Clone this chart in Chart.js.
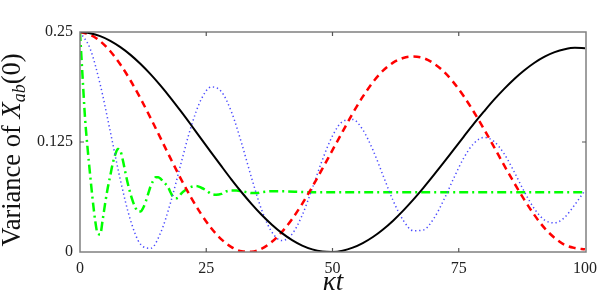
<!DOCTYPE html>
<html>
<head>
<meta charset="utf-8">
<script src="https://cdn.jsdelivr.net/npm/chart.js@4/dist/chart.umd.min.js"></script>
<style>
  html, body { margin: 0; padding: 0; background: #fff; }
  #wrap { position: relative; width: 598px; height: 295px; }
</style>
</head>
<body>
<div id="wrap"><canvas id="c"></canvas></div>
<script>
// ---- data ----
const xTicks = [0, 25, 50, 75, 100];
const yTicks = [0, 0.125, 0.25];
const yTickLabels = ["0", "0.125", "0.25"];

const tGrid = [0,2,4,6,8,10,12,14,16,18,20,22,24,26,28,30,32,34,36,38,40,42,44,46,48,50,
               52,54,56,58,60,62,64,66,68,70,72,74,76,78,80,82,84,86,88,90,92,94,96,98,100];

const blackV = [0.250,0.2486,0.2453,0.2400,0.2328,0.2240,0.2136,0.2018,0.1887,0.1746,0.1597,
                0.1443,0.1286,0.1130,0.0975,0.0823,0.0679,0.0544,0.0420,0.0310,0.0214,
                0.0135,0.0073,0.0030,0.0006,0.0001,0.0015,0.0049,0.0101,0.0170,0.0256,
                0.0356,0.0470,0.0595,0.0729,0.0870,0.1015,0.1164,0.1312,0.1458,0.1597,
                0.1731,0.1854,0.1967,0.2066,0.2151,0.2220,0.2271,0.2304,0.2320,0.2316];

const redV = [0.250,0.2470,0.2396,0.2281,0.2130,0.1949,0.1743,0.1520,0.1288,0.1055,0.0829,
              0.0618,0.0430,0.0270,0.0144,0.0056,0.0008,0.0003,0.0039,0.0116,0.0229,
              0.0375,0.0547,0.0740,0.0947,0.1158,0.1368,0.1575,0.1765,0.1930,0.2060,
              0.2152,0.2205,0.2221,0.2203,0.2145,0.2052,0.1925,0.1769,0.1591,0.1396,
              0.1192,0.0984,0.0783,0.0592,0.0419,0.0271,0.0160,0.0080,0.0045,0.0030];

const blueV = [0.250,0.2311,0.1904,0.1368,0.0817,0.0361,0.0087,0.0042,0.0224,0.0574,0.1007,
               0.1424,0.1735,0.1876,0.1822,0.1591,0.1236,0.0837,0.0475,0.0225,0.0130,
               0.0203,0.0418,0.0724,0.1047,0.1320,0.1483,0.1506,0.1389,0.1160,0.0872,
               0.0585,0.0361,0.0242,0.0250,0.0375,0.0587,0.0837,0.1069,0.1235,0.1301,
               0.1256,0.1115,0.0909,0.0684,0.0489,0.0363,0.0331,0.0395,0.0539,0.0700];

const greenT = [0,0.5,1,1.5,2,2.5,3,3.5,4,4.5,5,5.5,6,6.5,7,7.5,8,8.5,9,9.5,10,10.5,11,11.5,
                12,12.5,13,13.5,14,14.5,15,15.5,16,16.5,17,17.5,18,18.5,19,19.5,20,21,22,23,
                24,25,26,27,28,29,30,31,32,33,34,35,36,38,40,45,50,55,60,65,70,75,80,85,90,95,100];
const greenV = [0.250,0.200,0.152,0.118,0.088,0.060,0.036,0.021,0.020,0.037,0.056,0.073,0.087,
                0.101,0.111,0.117,0.115,0.104,0.090,0.077,0.066,0.057,0.050,0.046,0.046,0.050,
                0.057,0.066,0.075,0.081,0.085,0.085,0.083,0.080,0.077,0.073,0.067,0.062,0.061,
                0.062,0.066,0.071,0.074,0.075,0.073,0.070,0.066,0.065,0.066,0.069,0.070,0.070,
                0.069,0.068,0.067,0.067,0.068,0.069,0.069,0.068,0.068,0.068,0.068,0.068,0.068,
                0.068,0.068,0.068,0.068,0.068,0.068];

const xTitle = "κt";
const yTitleParts = ["Variance of ", "X", "ab", "(0)"];

// ---- build ----
const pts = (ts, vs) => ts.map((t, i) => ({ x: t, y: vs[i] }));

const SERIF = '"Liberation Serif", "DejaVu Serif", serif';

const framePlugin = {
  id: 'frame',
  afterDatasetsDraw(chart) {
    const { ctx, chartArea: a, scales } = chart;
    ctx.save();
    ctx.strokeStyle = '#808080';
    ctx.lineWidth = 1.5;
    ctx.strokeRect(a.left, a.top, a.right - a.left, a.bottom - a.top);
    ctx.lineWidth = 1.2;
    ctx.strokeStyle = '#555';
    const tl = 4;
    xTicks.forEach(v => {
      if (v === 0 || v === 100) return;
      const px = scales.x.getPixelForValue(v);
      ctx.beginPath();
      ctx.moveTo(px, a.bottom); ctx.lineTo(px, a.bottom - tl);
      ctx.moveTo(px, a.top); ctx.lineTo(px, a.top + tl);
      ctx.stroke();
    });
    yTicks.forEach(v => {
      if (v === 0 || v === 0.25) return;
      const py = scales.y.getPixelForValue(v);
      ctx.beginPath();
      ctx.moveTo(a.left, py); ctx.lineTo(a.left + tl, py);
      ctx.moveTo(a.right, py); ctx.lineTo(a.right - tl, py);
      ctx.stroke();
    });
    ctx.restore();
  },
  afterDraw(chart) {
    const { ctx, chartArea: a } = chart;
    ctx.save();
    ctx.fillStyle = '#111';
    // x title
    ctx.font = 'italic 27px ' + SERIF;
    ctx.textAlign = 'center';
    ctx.textBaseline = 'alphabetic';
    ctx.fillText(xTitle, 333, 290);
    // y title (rotated)
    const fonts = ['26.5px ' + SERIF, 'italic 26.5px ' + SERIF, 'italic 18px ' + SERIF, '26.5px ' + SERIF];
    const dy = [0, 0, 5, 0];
    const widths = yTitleParts.map((s, i) => { ctx.font = fonts[i]; return ctx.measureText(s).width; });
    const total = widths.reduce((p, q) => p + q, 0);
    ctx.translate(20, 150);
    ctx.rotate(-Math.PI / 2);
    ctx.textAlign = 'left';
    let x = -total / 2;
    yTitleParts.forEach((s, i) => {
      ctx.font = fonts[i];
      ctx.fillText(s, x, dy[i]);
      x += widths[i];
    });
    ctx.restore();
  }
};

new Chart(document.getElementById('c'), {
  type: 'line',
  data: {
    datasets: [
      { label: 'black', data: pts(tGrid, blackV), borderColor: '#000', borderWidth: 2 },
      { label: 'red', data: pts(tGrid, redV), borderColor: '#ff0000', borderWidth: 2.5, borderDash: [7, 5] },
      { label: 'blue', data: pts(tGrid, blueV), borderColor: '#4a4aff', borderWidth: 1.5, borderDash: [1.3, 2.8] },
      { label: 'green', data: pts(greenT, greenV), borderColor: '#00ff00', borderWidth: 2.5, borderDash: [9, 4, 2, 4] }
    ]
  },
  options: {
    responsive: true,
    maintainAspectRatio: false,
    animation: false,
    devicePixelRatio: 1,
    layout: { padding: { left: 0, right: 12, top: 32, bottom: 0 } },
    elements: {
      point: { radius: 0 },
      line: { cubicInterpolationMode: 'monotone', fill: false }
    },
    plugins: { legend: { display: false }, tooltip: { enabled: false } },
    scales: {
      x: {
        type: 'linear', min: 0, max: 100.2,
        afterBuildTicks: s => { s.ticks = xTicks.map(v => ({ value: v })); },
        afterFit: s => { s.height = 43; s.paddingLeft = 0; s.paddingRight = 0; },
        grid: { display: false, drawTicks: false },
        border: { display: false },
        ticks: { color: '#222', font: { family: SERIF, size: 16 }, padding: 7, maxRotation: 0,
                 callback: v => String(v) }
      },
      y: {
        type: 'linear', min: 0, max: 0.25,
        afterBuildTicks: s => { s.ticks = yTicks.map(v => ({ value: v })); },
        afterFit: s => { s.width = 80; },
        grid: { display: false, drawTicks: false },
        border: { display: false },
        ticks: { color: '#222', font: { family: SERIF, size: 16 }, padding: 7,
                 callback: (v) => yTickLabels[yTicks.indexOf(v)] }
      }
    }
  },
  plugins: [framePlugin]
});
</script>
</body>
</html>
